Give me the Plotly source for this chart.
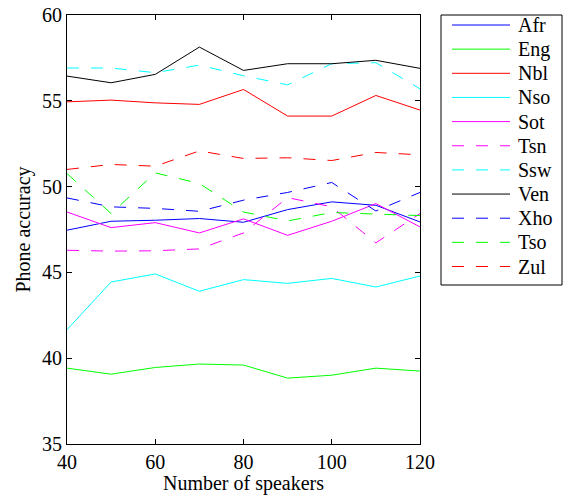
import plotly.graph_objects as go

speakers = [40, 50, 60, 70, 80, 90, 100, 110, 120]

afr = [47.46, 47.98, 48.04, 48.14, 47.92, 48.66, 49.11, 48.91, 47.94]
eng = [39.42, 39.07, 39.46, 39.66, 39.60, 38.84, 39.01, 39.42, 39.25]
nbl = [54.94, 55.04, 54.88, 54.79, 55.66, 54.11, 54.11, 55.31, 54.46]
nso = [41.66, 44.44, 44.91, 43.90, 44.58, 44.36, 44.65, 44.15, 44.79]
sot = [48.52, 47.61, 47.90, 47.30, 48.12, 47.16, 47.98, 49.01, 47.65]
tsn = [46.29, 46.24, 46.26, 46.37, 47.30, 49.36, 48.82, 46.72, 48.43]
ssw = [56.91, 56.91, 56.64, 57.08, 56.46, 55.93, 57.16, 57.22, 55.70]
ven = [56.44, 56.05, 56.54, 58.13, 56.77, 57.16, 57.16, 57.36, 56.89]
xho = [49.34, 48.82, 48.73, 48.56, 49.21, 49.66, 50.24, 48.58, 49.66]
tso = [50.76, 48.43, 50.80, 50.18, 48.52, 48.00, 48.49, 48.39, 48.31]
zul = [51.00, 51.29, 51.19, 52.08, 51.64, 51.68, 51.52, 51.99, 51.85]

names = ["Afr", "Eng", "Nbl", "Nso", "Sot", "Tsn", "Ssw", "Ven", "Xho", "Tso", "Zul"]
values = [afr, eng, nbl, nso, sot, tsn, ssw, ven, xho, tso, zul]
colors = ["#0000FF", "#00FF00", "#FF0000", "#00FFFF", "#FF00FF", "#FF00FF",
          "#00FFFF", "#000000", "#0000FF", "#00FF00", "#FF0000"]
dashed = [False, False, False, False, False, True, True, False, True, True, True]

x_ticks = [40, 60, 80, 100, 120]
y_ticks = [35, 40, 45, 50, 55, 60]

W, H = 563, 495
L, R, T, B = 67, 143, 15, 51
PW, PH = W - L - R, H - T - B
DASH = "12px,12px"
FONT = "Liberation Serif, Times New Roman, serif"


def px_x(px):
    return (px - L) / PW


def px_y(py):
    return (H - B - py) / PH


fig = go.Figure()
for name, vals, col, d in zip(names, values, colors, dashed):
    fig.add_trace(go.Scatter(
        x=speakers, y=vals, mode="lines", name=name, showlegend=False,
        line=dict(color=col, width=1, dash=DASH if d else "solid"),
    ))

# manual legend (MATLAB style)
shapes = [dict(type="rect", xref="paper", yref="paper",
               x0=px_x(441), x1=px_x(562), y0=px_y(285), y1=px_y(15),
               line=dict(color="black", width=1), fillcolor="white", layer="below")]
annotations = []
for i, (name, col, d) in enumerate(zip(names, colors, dashed)):
    yy = 25 + 24.15 * i
    shapes.append(dict(type="line", xref="paper", yref="paper",
                       x0=px_x(452), x1=px_x(510), y0=px_y(yy), y1=px_y(yy),
                       line=dict(color=col, width=1, dash=DASH if d else "solid")))
    annotations.append(dict(xref="paper", yref="paper", x=px_x(516), y=px_y(yy),
                            text=name, showarrow=False, xanchor="left", yanchor="middle",
                            font=dict(family=FONT, size=20, color="black")))

axis_common = dict(showline=True, linecolor="black", linewidth=1, mirror="ticks",
                   ticks="inside", ticklen=5, tickcolor="black", tickwidth=1,
                   showgrid=False, zeroline=False,
                   tickfont=dict(family=FONT, size=20, color="black"))

fig.update_layout(
    width=W, height=H,
    margin=dict(l=L, r=R, t=T, b=B, autoexpand=False),
    paper_bgcolor="white", plot_bgcolor="white",
    font=dict(family=FONT, size=20, color="black"),
    xaxis=dict(range=[40, 120], tickvals=x_ticks,
               title=dict(text="Number of speakers", font=dict(family=FONT, size=20), standoff=2),
               **axis_common),
    yaxis=dict(range=[35, 60], tickvals=y_ticks,
               title=dict(text="Phone accuracy", font=dict(family=FONT, size=20), standoff=6),
               **axis_common),
    shapes=shapes, annotations=annotations,
    showlegend=False,
)

fig.write_html("out.html")
